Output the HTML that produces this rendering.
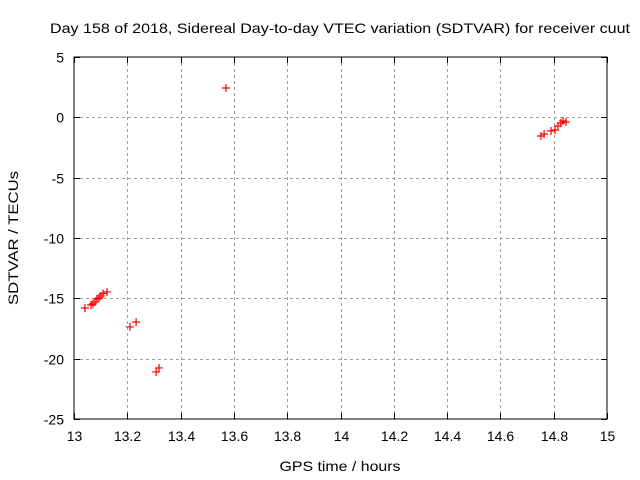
<!DOCTYPE html>
<html><head><meta charset="utf-8"><style>
body{margin:0;background:#fff}
svg{display:block;font-family:"Liberation Sans",sans-serif}
</style></head><body>
<svg id="chart" width="640" height="480">
<text x="340" y="33" font-size="14" text-anchor="middle" textLength="580" lengthAdjust="spacingAndGlyphs">Day 158 of 2018, Sidereal Day-to-day VTEC variation (SDTVAR) for receiver cuut</text>
<text x="340" y="471" font-size="14" text-anchor="middle" textLength="121" lengthAdjust="spacingAndGlyphs">GPS time / hours</text>
<text transform="translate(18,238) rotate(-90)" font-size="14" text-anchor="middle" textLength="134" lengthAdjust="spacingAndGlyphs">SDTVAR / TECUs</text>
<g id="grid"></g><g id="axes"></g><g id="marks"></g>
<rect x="74" y="57" width="533" height="362" fill="none" stroke="#000" stroke-width="1"/>
</svg>
<script>
const xTicks=[13,13.2,13.4,13.6,13.8,14,14.2,14.4,14.6,14.8,15];
const xTickLabels=["13","13.2","13.4","13.6","13.8","14","14.2","14.4","14.6","14.8","15"];
const yTicks=[5,0,-5,-10,-15,-20,-25];
const yTickLabels=["5","0","-5","-10","-15","-20","-25"];
const times=[13.041,13.064,13.071,13.079,13.086,13.094,13.101,13.109,13.124,13.210,13.233,13.308,13.319,13.570,14.752,14.764,14.790,14.805,14.816,14.827,14.835,14.846];
const sdtvar=[-15.8,-15.55,-15.46,-15.3,-15.05,-14.97,-14.8,-14.6,-14.47,-17.37,-16.96,-21.1,-20.77,2.43,-1.55,-1.38,-1.13,-1.05,-0.72,-0.47,-0.30,-0.39];
const L=74,R=607,T=57,B=419;
const xs=v=>L+(v-13)/2*(R-L);
const ys=v=>T+(5-v)/30*(B-T);
const NS="http://www.w3.org/2000/svg";
function mk(tag,attrs,parent){const e=document.createElementNS(NS,tag);for(const k in attrs)e.setAttribute(k,attrs[k]);parent.appendChild(e);return e;}
const grid=document.getElementById('grid'),axes=document.getElementById('axes'),marks=document.getElementById('marks');
xTicks.forEach((t,i)=>{const x=Math.round(xs(t))+0.5;
 if(i>0&&i<xTicks.length-1){const g=mk('line',{x1:x,x2:x,y1:T,y2:B,stroke:'#a0a0a0','stroke-dasharray':'3,3'},grid);
 
 }
 mk('line',{x1:x,x2:x,y1:B,y2:B-6,stroke:'#000'},axes);mk('line',{x1:x,x2:x,y1:T,y2:T+6,stroke:'#000'},axes);
 const tx=mk('text',{x:x,y:B+22,'font-size':14,'text-anchor':'middle'},axes);tx.textContent=xTickLabels[i];
 
 });
yTicks.forEach((t,i)=>{const y=Math.round(ys(t))+0.5;
 if(i>0&&i<yTicks.length-1){const g=mk('line',{x1:L,x2:R,y1:y,y2:y,stroke:'#a0a0a0','stroke-dasharray':'3,3'},grid);
 
 }
 mk('line',{x1:L,x2:L+6,y1:y,y2:y,stroke:'#000'},axes);mk('line',{x1:R,x2:R-6,y1:y,y2:y,stroke:'#000'},axes);
 const tx=mk('text',{x:L-10,y:y+5,'font-size':14,'text-anchor':'end'},axes);tx.textContent=yTickLabels[i];
 
 });
times.forEach((t,i)=>{const x=xs(t),y=ys(sdtvar[i]);
 const p=mk('path',{d:`M${x-4},${y}H${x+4}M${x},${y-4}V${y+4}`,stroke:'#f00','stroke-width':1.2,fill:'none'},marks);
 
 });
</script>
</body></html>
